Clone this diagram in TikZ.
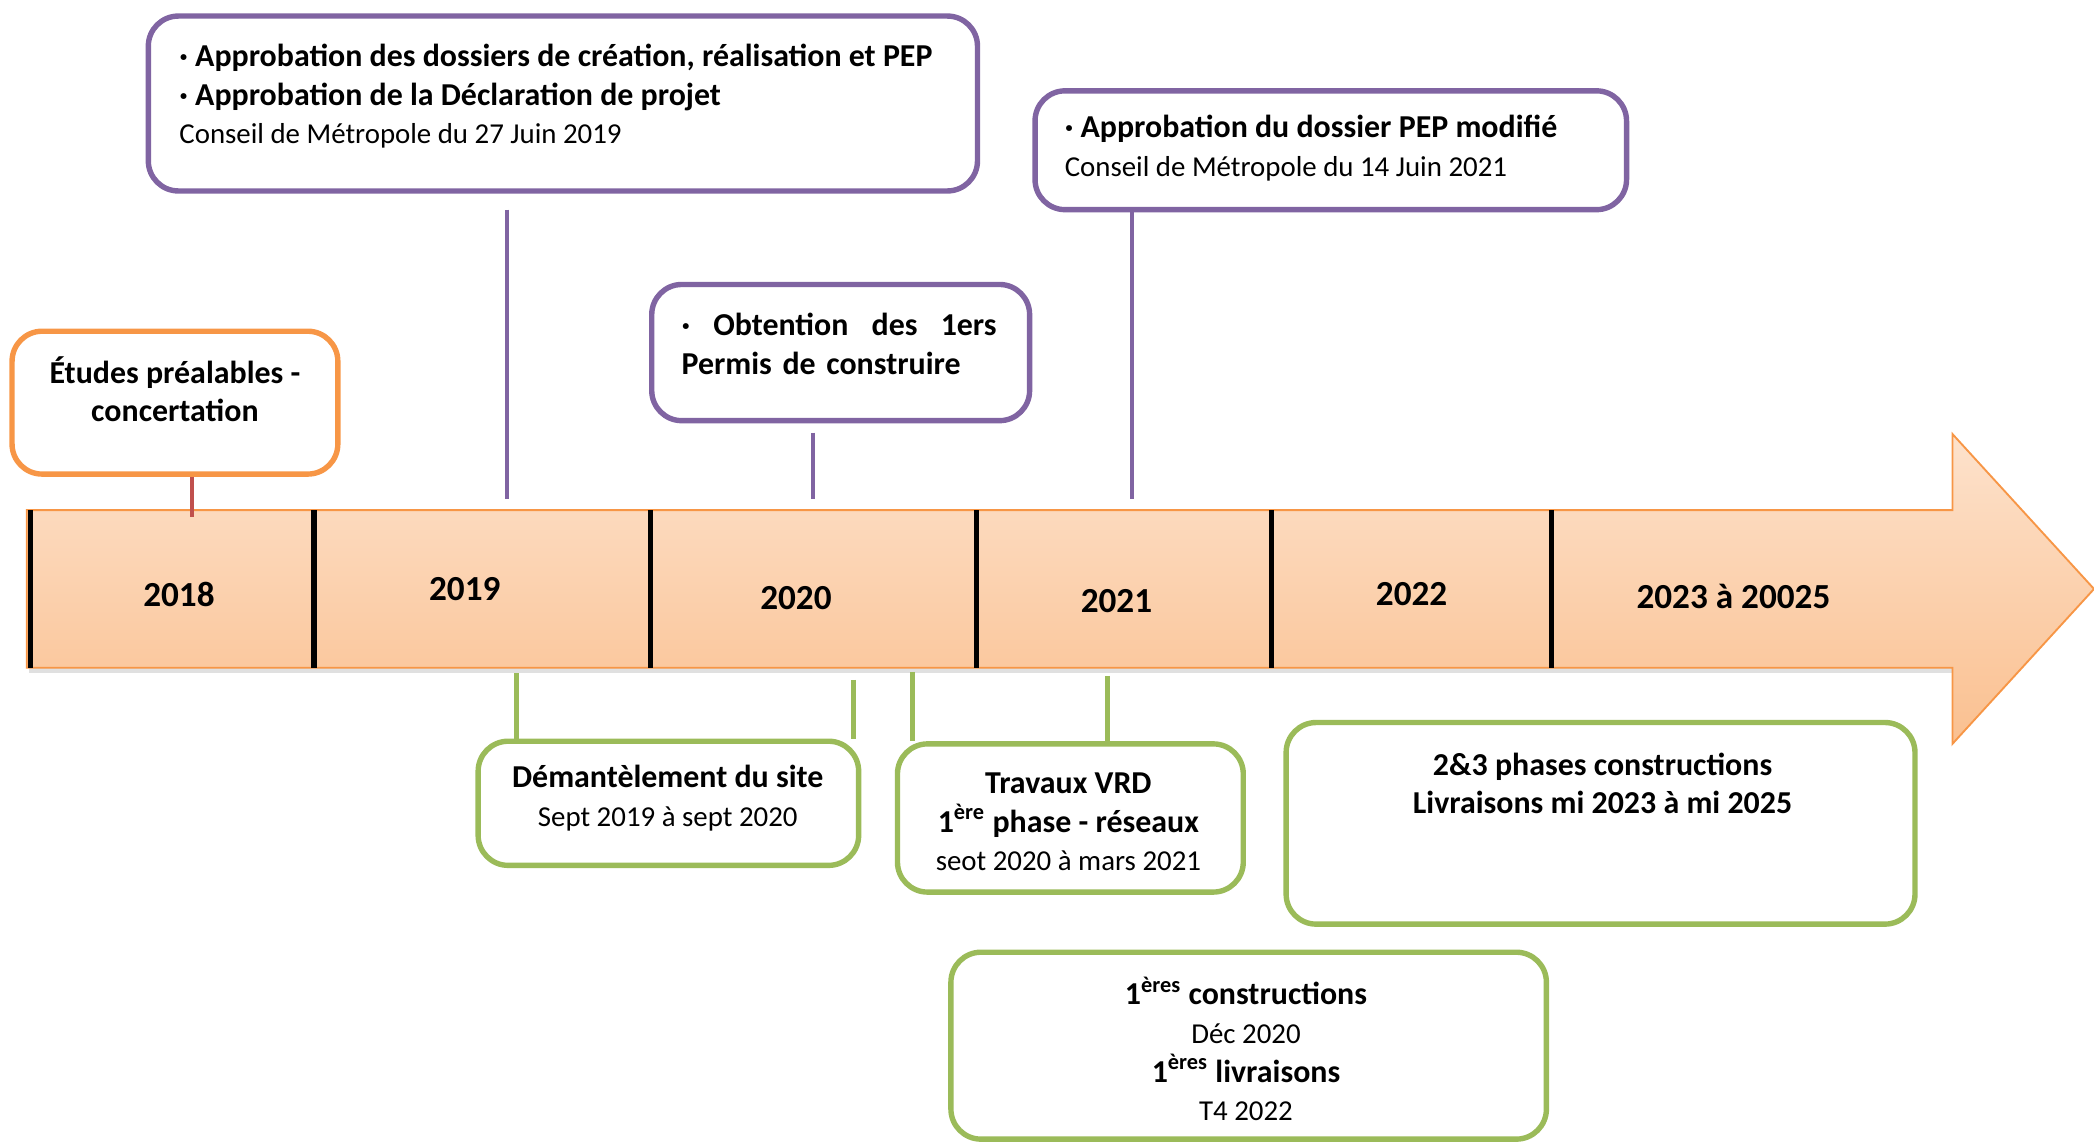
\documentclass[tikz,border=0pt]{standalone}
\usepackage{fontspec}
\setmainfont{Carlito}
\usepackage{tikz}
\usetikzlibrary{positioning}
\usetikzlibrary{arrows.meta}

\definecolor{violet}{HTML}{8064A2}
\definecolor{orangebord}{HTML}{F79646}
\definecolor{vert}{HTML}{9BBB59}
\definecolor{rouge}{HTML}{C0504D}
\definecolor{flechehaut}{HTML}{FDE2CC}
\definecolor{flechebas}{HTML}{FAC090}

\newcommand{\detail}{\fontsize{12.3}{16.5}\selectfont}

\tikzset{
    jalon/.style={draw, line width=2.3pt, rounded corners=0.45cm, fill=white},
    txt/.style={inner sep=0pt, font=\fontsize{13.6}{16.5}\selectfont},
    annee/.style={inner sep=0pt, font=\fontsize{15}{18}\selectfont\bfseries},
    lien/.style={line width=1.7pt},
    lienvert/.style={line width=2.2pt, draw=vert}
}

\begin{document}
\begin{tikzpicture}[x=0.02cm, y=-0.02cm]
    \useasboundingbox (0,0) rectangle (1568,856);

    \fill[black!12] (22,386) -- (1464,386) -- (1464,504) -- (22,504) -- cycle;
    \draw[draw=orangebord, line width=0.8pt, top color=flechehaut, bottom color=flechebas] (20,382) -- (1462,382) -- (1462,325) -- (1568,441) -- (1462,557) -- (1462,500) -- (20,500) -- cycle;
    \foreach \x in {23,235,487,731,952,1162}
        \draw[line width=0.08cm] (\x,382) -- (\x,500);
    \foreach \x/\y/\an in {134/445/2018, 348/441/2019, 596/448/2020, 836/450/2021, 1057/445/2022}
        \node[annee] (a\an) at (\x,\y) {\an};
    \node[annee] (a2023) at (1298,447) {2023 à 20025};

    \node[jalon, draw=violet, minimum width=12.42cm, minimum height=2.62cm] (approb) at (421.5,77.5) {};
    \node[txt, anchor=west, align=left] (approbtxt) at (134,72) {\textbf{· Approbation des dossiers de création, réalisation et PEP}\\\textbf{· Approbation de la Déclaration de projet}\\{\detail Conseil de Métropole du 27 Juin 2019}};

    \node[jalon, draw=orangebord, minimum width=4.88cm, minimum height=2.14cm] (etudes) at (131,301.5) {};
    \node[txt, align=center, font=\fontsize{13.6}{16.5}\selectfont\bfseries] (etudestxt) at (131,291.5) {Études préalables -\\concertation};

    \node[jalon, draw=violet, minimum width=5.66cm, minimum height=2.04cm] (permis) at (629.5,264) {};
    \node[txt, anchor=west, align=left, text width=4.72cm, font=\fontsize{13.6}{16.5}\selectfont\bfseries] (permistxt) at (510,257.5) {·\hfill Obtention\hfill des\hfill 1ers\\Permis de construire};

    \node[jalon, draw=violet, minimum width=8.86cm, minimum height=1.78cm] (pep) at (996.5,112.5) {};
    \node[txt, anchor=west, align=left] (peptxt) at (797,111) {\textbf{· Approbation du dossier PEP modifié}\\{\detail Conseil de Métropole du 14 Juin 2021}};

    \node[jalon, draw=vert, minimum width=5.7cm, minimum height=1.86cm] (demant) at (500.5,601.5) {};
    \node[txt, align=center] (demanttxt) at (500,597.5) {\textbf{Démantèlement du site}\\{\detail Sept 2019 à sept 2020}};

    \node[jalon, draw=vert, minimum width=5.18cm, minimum height=2.22cm] (vrd) at (801.5,612.5) {};
    \node[txt, align=center] (vrdtxt) at (800,615.5) {\textbf{Travaux VRD}\\\textbf{1\textsuperscript{ère} phase - réseaux}\\{\detail seot 2020 à mars 2021}};

    \node[jalon, draw=vert, minimum width=9.42cm, minimum height=3.02cm] (phases) at (1198.5,616.5) {};
    \node[txt, align=center, font=\fontsize{13.6}{16.5}\selectfont\bfseries] (phasestxt) at (1200,586.5) {2\&3 phases constructions\\Livraisons mi 2023 à mi 2025};

    \node[jalon, draw=vert, minimum width=8.92cm, minimum height=2.8cm] (constr) at (935,783) {};
    \node[txt, align=center] (constrtxt) at (933,785.5) {\textbf{1\textsuperscript{ères} constructions}\\{\detail Déc 2020}\\\textbf{1\textsuperscript{ères} livraisons}\\{\detail T4 2022}};

    \coordinate (t18) at (144,387);
    \coordinate (t19) at (380,374);
    \coordinate (t20) at (609,374);
    \coordinate (t21) at (848,374);
    \coordinate (b19) at (387,504);
    \coordinate (b20) at (639,509);
    \coordinate (b20v) at (683,503);
    \coordinate (b21) at (829,506);

    \draw[lien, draw=rouge] (etudes.south -| t18) -- (t18);
    \draw[lien, draw=violet, shorten <=0.24cm] (approb.south -| t19) -- (t19);
    \draw[lien, draw=violet, shorten <=0.14cm] (permis.south -| t20) -- (t20);
    \draw[lien, draw=violet] (pep.south -| t21) -- (t21);
    \draw[lienvert] (b19) -- (demant.north -| b19);
    \draw[lienvert] (b20) -- (demant.north -| b20);
    \draw[lienvert] (b20v) -- (vrd.north -| b20v);
    \draw[lienvert] (b21) -- (vrd.north -| b21);
\end{tikzpicture}
\end{document}
